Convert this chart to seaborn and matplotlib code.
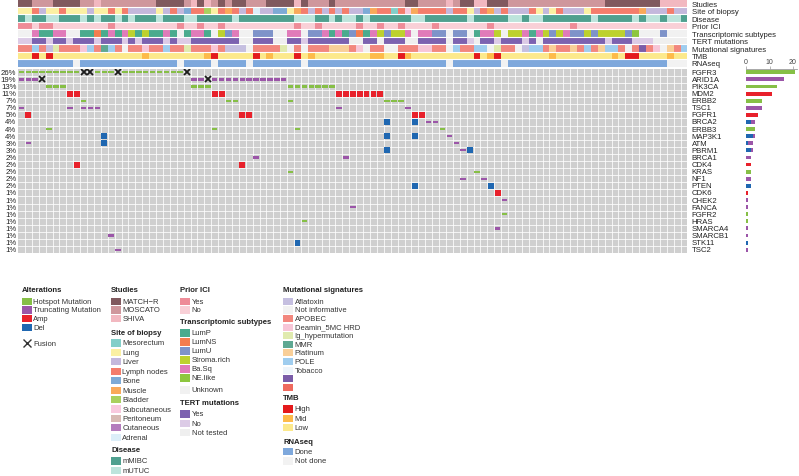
import numpy as np
import pandas as pd
import matplotlib
matplotlib.use("Agg")
import matplotlib.pyplot as plt
from matplotlib.colors import ListedColormap
from matplotlib.patches import Rectangle
import seaborn as sns

W, H = 799, 477
N = 97

##### Data

genes = ["FGFR3", "ARID1A", "PIK3CA", "MDM2", "ERBB2", "TSC1", "FGFR1", "BRCA2",
         "ERBB3", "MAP3K1", "ATM", "PBRM1", "BRCA1", "CDK4", "KRAS", "NF1", "PTEN",
         "CDK6", "CHEK2", "FANCA", "FGFR2", "HRAS", "SMARCA4", "SMARCB1", "STK11", "TSC2"]
pct_labels = ["26%", "19%", "13%", "11%", "7%", "7%", "5%", "4%", "4%", "4%", "3%", "3%",
              "2%", "2%", "2%", "2%", "2%", "1%", "1%", "1%", "1%", "1%", "1%", "1%", "1%", "1%"]

# sample indices (0..96) per gene and alteration type
hotspot_cols = {
    "FGFR3": [0, 1, 2, 3, 4, 5, 6, 7, 8, 11, 12, 13, 15, 16, 17, 18, 19, 20, 21, 22, 23],
    "PIK3CA": [4, 5, 6, 25, 26, 27, 39, 40, 41, 42, 43, 44, 45],
    "ERBB2": [9, 30, 31, 39, 53, 54, 55],
    "ERBB3": [4, 28, 40, 61],
    "KRAS": [39, 66],
    "FGFR2": [70],
    "HRAS": [41],
}
trunc_cols = {
    "ARID1A": [0, 1, 2, 25, 26, 28, 29, 30, 31, 32, 33, 34, 35, 36, 37, 38],
    "TSC1": [0, 7, 9, 10, 11, 46, 56],
    "BRCA2": [59, 60],
    "MAP3K1": [62],
    "ATM": [1, 63],
    "PBRM1": [64],
    "BRCA1": [34, 47],
    "NF1": [64, 67],
    "CHEK2": [70],
    "FANCA": [48],
    "SMARCA4": [69],
    "SMARCB1": [13],
    "TSC2": [14],
}
amp_cols = {
    "MDM2": [7, 8, 28, 29, 46, 47, 48, 49, 50, 51, 52],
    "FGFR1": [1, 32, 33, 57, 58],
    "CDK4": [8, 32],
    "CDK6": [69],
}
del_cols = {
    "BRCA2": [53, 57],
    "MAP3K1": [12, 53, 57],
    "ATM": [12],
    "PBRM1": [53, 65],
    "PTEN": [57, 68],
    "STK11": [40],
}
fusion_cols = {"FGFR3": [9, 10, 14, 24], "ARID1A": [3, 27]}

# annotation tracks, one letter per sample
studies = ("MMOOOMMMMO" "OSOOOOOOOO" "MMMMOSMSOM" "OMMOOOMMMM" "SMOOOMOOOO"
           "OOOOOOMMOO" "OOSOMMSSMM" "MOOOOOOOOO" "OOOOOMMMMM" "MMMSSSS")
site = ("ggnvggnggg" "vggngnvvvv" "gvnvbnndgn" "mnvnavvbbg" "mnvnvnvnvv"
        "bmnnensmnn" "nnvnngvnmv" "nvvvngvgnv" "vvgnnnnnnn" "mvvvnvv")
disease = ("BUBBUUBBBU" "BUBBUBUBBB" "UBBBUUBBBB" "BUBBBBBBBB" "UUUBBUBUUB"
           "UBBBBBBUUB" "BBBBBUBBBB" "BUUBUUBBBB" "BBBUBBBBBU" "BUUBUUB")
prior_ici = ("YYNYYNNNNN" "NNNYNNNNNN" "NNNYNNYNNY" "NNNNNNNNNN" "YNNYNNNNNY"
             "NNYNNYNNNN" "YNNNNNNNYN" "NNNNNNNNNN" "YNNNNNNNNN" "NNNNNNN")
subtype = ("XXBPPBBXXP" "PNPBPBSPSP" "PBPXPBBPXS" "UBXXUUUXXB" "BXUUBPBPUN"
           "PBSUSSBXBB" "UUXUUXPBBS" "XSSBPBSUSB" "UUSUSSSSUE" "XXXUXXX")
tert = ("NNYYNYYNYY" "YNYYYNYNYY" "YNYNNYYYYY" "YYTTYYYTTY" "YNYYYYYYTT"
        "YYTYYYTTYY" "YYTYYNTYYN" "YYYNYTYYYY" "YYYYYNYYYN" "NNTTTTT")
mutsig = ("PPOPAGPPPD" "OPMOPIPPDP" "POPPGPPPDP" "AAAIPPPPGI" "PIPPPLLLPD"
          "IPPIIPPPDD" "PPIOPPOOIG" "PPIAOOPLPP" "LPOPLOOPIP" "QPDILPO")
tmb = ("LLHLHLLLLL" "LLLLLLLLML" "LLLLLLLMHL" "LLLLHLMLLL" "HLMLLLLLLL"
       "LMMLLHMLLL" "LLLLLLHLMH" "LLLLLLLMLL" "LLLLLLMLHH" "LLLLMLL")
rnaseq = ("DDDDDDDDND" "DDDDDDDDDD" "DDDNDDDDND" "DDDNDDDDDD" "DNDDDDDDDD"
          "DDDDDDDDDD" "DDNDDDDDDD" "NDDDDDDDDD" "DDDDDDDDDD" "DDDDNNN")

##### Colours

c_hot, c_trunc, c_amp, c_del = "#86bf46", "#9b55a8", "#e8212b", "#1f67b1"
c_grey = "#cfcfcf"

study_cats = {"M": ("MATCH\u2212R", "#80595e"), "O": ("MOSCATO", "#cf979c"),
              "S": ("SHIVA", "#f2b8c0")}
site_cats = {"e": ("Mesorectum", "#82cfc9"), "g": ("Lung", "#fbf0a3"),
             "v": ("Liver", "#c4b8dc"), "n": ("Lymph nodes", "#f47d6c"),
             "b": ("Bone", "#7eaad6"), "m": ("Muscle", "#f9a95a"),
             "d": ("Bladder", "#a9d05f"), "s": ("Subcutaneous", "#f8c9de"),
             "p": ("Peritoneum", "#d8bab4"), "c": ("Cutaneous", "#b47cbd"),
             "a": ("Adrenal", "#dceef8")}
disease_cats = {"B": ("mMIBC", "#4fa08f"), "U": ("mUTUC", "#bde4dc")}
prior_cats = {"Y": ("Yes", "#ee8c98"), "N": ("No", "#f9d0d7")}
subtype_cats = {"P": ("LumP", "#4aab8e"), "N": ("LumNS", "#f47d4f"),
                "U": ("LumU", "#7e93c9"), "S": ("Stroma.rich", "#bdd12e"),
                "B": ("Ba.Sq", "#e07bb9"), "E": ("NE.like", "#8dc63f"),
                "X": ("Unknown", "#f1f1f1")}
tert_cats = {"Y": ("Yes", "#7c62b0"), "N": ("No", "#dccbe6"),
             "T": ("Not tested", "#efefef")}
mutsig_cats = {"A": ("Aflatoxin", "#c5bfe0"), "I": ("Not informative", "#f2f2f2"),
               "P": ("APOBEC", "#f2877e"), "D": ("Deamin_5MC HRD", "#f7c6d7"),
               "G": ("Ig_hypermutation", "#e0eaae"), "M": ("MMR", "#5ea892"),
               "L": ("Platinum", "#f9cf98"), "O": ("POLE", "#9fcdef"),
               "T": ("Tobacco", "#eef5fb"), "Q": ("", "#7a5ca8"), "R": ("", "#ef6a5e")}
tmb_cats = {"H": ("High", "#e41a1c"), "M": ("Mid", "#fdbb4a"), "L": ("Low", "#fce98c")}
rna_cats = {"D": ("Done", "#7ea8dc"), "N": ("Not done", "#f2f2f2")}

tracks = [("Studies", studies, study_cats), ("Site of biopsy", site, site_cats),
          ("Disease", disease, disease_cats), ("Prior ICI", prior_ici, prior_cats),
          ("Transcriptomic subtypes", subtype, subtype_cats),
          ("TERT mutations", tert, tert_cats),
          ("Mutational signatures", mutsig, mutsig_cats),
          ("TMB", tmb, tmb_cats), ("RNAseq", rnaseq, rna_cats)]

##### Figure

sns.set_theme(style="white")
plt.rcParams["font.family"] = ["Liberation Sans", "DejaVu Sans"]
FS = 5.6
TXT = "#222222"

fig = plt.figure(figsize=(W / 100, H / 100), dpi=100)


def box(x0, y0, x1, y1):
    return [x0 / W, 1 - y1 / H, (x1 - x0) / W, (y1 - y0) / H]


# legend canvas in pixel coordinates
ax_l = fig.add_axes([0, 0, 1, 1])
ax_l.set_xlim(0, W)
ax_l.set_ylim(H, 0)
ax_l.axis("off")

### annotation tracks
palette = []
codes = np.zeros((len(tracks), N), dtype=int)
for i, (name, seq, cats) in enumerate(tracks):
    assert len(seq) == N, name
    keys = list(cats)
    base = len(palette)
    palette += [cats[k][1] for k in keys]
    codes[i] = [base + keys.index(ch) for ch in seq]

ax_t = fig.add_axes(box(18, 0.25, 687.5, 67.75))
sns.heatmap(codes, ax=ax_t, cmap=ListedColormap(palette), vmin=-0.5,
            vmax=len(palette) - 0.5, cbar=False, xticklabels=False,
            yticklabels=[t[0] for t in tracks])
for i in range(1, len(tracks)):
    ax_t.axhline(i, color="white", lw=0.8)
ax_t.yaxis.tick_right()
ax_t.tick_params(axis="y", length=0, pad=3, labelsize=FS, labelcolor=TXT, labelrotation=0)

### oncoprint grid
ax_g = fig.add_axes(box(18, 69.75, 687.5, 254.25))
sns.heatmap(np.zeros((len(genes), N)), ax=ax_g, cmap=ListedColormap([c_grey]),
            vmin=-0.5, vmax=0.5, cbar=False, xticklabels=False, yticklabels=pct_labels)
# thin white separators between cells
for c in range(1, N):
    ax_g.axvline(c, color="white", lw=0.55)
for r in range(1, len(genes)):
    ax_g.axhline(r, color="white", lw=0.55)
ax_g.tick_params(axis="y", length=0, pad=1.2, labelsize=FS, labelcolor=TXT, labelrotation=0)
for r, g in enumerate(genes):
    ax_g.text(N + 0.62, r + 0.5, g, ha="left", va="center", fontsize=FS, color=TXT,
              clip_on=False)

for d, color, full in [(amp_cols, c_amp, True), (del_cols, c_del, True),
                       (hotspot_cols, c_hot, False), (trunc_cols, c_trunc, False)]:
    for g, cols in d.items():
        r = genes.index(g)
        x = np.array(cols) + 0.5
        if full:
            ax_g.bar(x, 0.84, bottom=r + 0.08, width=0.84, color=color, linewidth=0,
                     zorder=3)
        else:
            ax_g.bar(x, 0.32, bottom=r + 0.34, width=0.8, color=color, linewidth=0,
                     zorder=3)
for g, cols in fusion_cols.items():
    r = genes.index(g)
    ax_g.plot(np.array(cols) + 0.5, [r + 0.5] * len(cols), ls="none", marker="x",
              ms=4.6, mew=1.3, color="#1c1c1c", zorder=4)

### counts bar chart
types = [("Del", del_cols, c_del), ("Amp", amp_cols, c_amp),
         ("Hotspot", hotspot_cols, c_hot), ("Truncating", trunc_cols, c_trunc)]
counts = pd.DataFrame({n: [len(d.get(g, [])) for g in genes] for n, d, _ in types},
                      index=genes)
ax_b = fig.add_axes(box(746, 69.75, 797, 254.25))
left = np.zeros(len(genes))
for n, d, color in types:
    ax_b.barh(np.arange(len(genes)) + 0.5, counts[n].values, left=left, height=0.55,
              color=color, linewidth=0)
    left += counts[n].values
ax_b.set_ylim(len(genes), 0)
ax_b.set_xlim(0, 21.7)
ax_b.set_facecolor("none")
for s in ["right", "bottom", "left"]:
    ax_b.spines[s].set_visible(False)
ax_b.spines["top"].set_color("#9a9a9a")
ax_b.spines["top"].set_linewidth(0.6)
ax_b.set_yticks([])
ax_b.xaxis.tick_top()
ax_b.set_xticks([0, 10, 20])
ax_b.tick_params(axis="x", length=2, width=0.5, color="#9a9a9a", pad=1,
                 labelsize=5, labelcolor="#444444")
ax_b.grid(False)

### legends


def legend_block(x, y_title, title, items, ys):
    ax_l.text(x, y_title, title, fontsize=FS, fontweight="bold", va="center", color=TXT)
    for (label, color), y in zip(items, ys):
        ax_l.add_patch(Rectangle((x, y - 3.6), 9.5, 7.2, color=color, lw=0))
        if label:
            ax_l.text(x + 11.3, y, label, fontsize=5.5, va="center", color="#333333")


def steps(y0, pitch, n):
    return [y0 + pitch * k for k in range(n)]


alt_items = [("Hotspot Mutation", c_hot), ("Truncating Mutation", c_trunc),
             ("Amp", c_amp), ("Del", c_del)]
legend_block(22, 290.7, "Alterations", alt_items, steps(302.3, 8.7, 4))
ax_l.plot([26.8], [344.3], marker="x", ms=5.2, mew=1.0, color="#333333")
ax_l.text(33.5, 344.3, "Fusion", fontsize=5.5, va="center", color="#333333")

legend_block(111, 290.7, "Studies", list(study_cats.values()), steps(302.3, 8.7, 3))
legend_block(111, 333.3, "Site of biopsy", list(site_cats.values()), steps(344, 9.43, 11))
legend_block(111, 450.7, "Disease", list(disease_cats.values()), steps(462, 9.6, 2))

legend_block(180.3, 290.7, "Prior ICI", list(prior_cats.values()), steps(302.3, 8.7, 2))
legend_block(180.3, 322.3, "Transcriptomic subtypes", list(subtype_cats.values()),
             steps(334, 9.0, 6) + [391])
legend_block(180.3, 403.3, "TERT mutations", list(tert_cats.values()), steps(415, 9.35, 3))

legend_block(283.3, 290.7, "Mutational signatures", list(mutsig_cats.values()),
             steps(302.3, 8.6, 11))
legend_block(283.3, 398.3, "TMB", list(tmb_cats.values()), steps(410, 9.35, 3))
legend_block(283.3, 442.3, "RNAseq", list(rna_cats.values()), steps(452.7, 9.3, 2))

fig.savefig("out.png", dpi=100)
